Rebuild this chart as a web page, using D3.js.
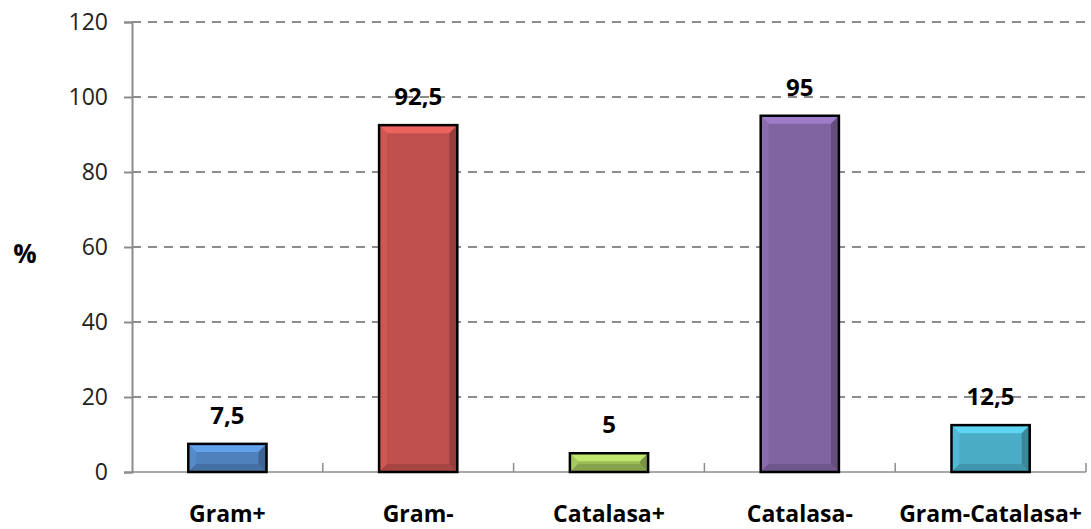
<!DOCTYPE html>
<html><head><meta charset="utf-8">
<script src="https://cdn.jsdelivr.net/npm/d3@7"></script>
<style>body{margin:0;background:#fff}svg{display:block}</style>
</head><body>
<svg id="c" width="1091" height="529"></svg>
<script>
const categories = ["Gram+","Gram-","Catalasa+","Catalasa-","Gram-Catalasa+"];
const values = [7.5, 92.5, 5, 95, 12.5];
const valueLabels = ["7,5","92,5","5","95","12,5"];
const colors = ["#4F81BD","#C0504D","#9BBB59","#8064A2","#4BACC6"];
const yTicks = [0,20,40,60,80,100,120];
const yTitle = "%";

const svg = d3.select("#c");
const m = {left:132, right:1086, top:22, bottom:472};
const x = d3.scaleBand().domain(categories).range([m.left, m.right]).paddingInner(0.59).paddingOuter(0.295);
const y = d3.scaleLinear().domain([0,120]).range([m.bottom, m.top]);
const font = "'Open Sans', sans-serif";

// gridlines
svg.append("g").selectAll("line").data(yTicks.filter(d=>d>0)).join("line")
  .attr("x1", m.left).attr("x2", m.right).attr("y1", d=>y(d)).attr("y2", d=>y(d))
  .attr("stroke","#8c8c8c").attr("stroke-width",2).attr("stroke-dasharray","9,7");

// y axis
const ya = svg.append("g").attr("transform",`translate(${m.left},0)`)
  .call(d3.axisLeft(y).tickValues(yTicks).tickSize(8).tickPadding(16));
ya.select(".domain").attr("stroke","#8c8c8c").attr("stroke-width",2);
ya.selectAll(".tick line").attr("stroke","#8c8c8c").attr("stroke-width",2);
ya.selectAll("text").attr("font-family",font).attr("font-size",23).attr("fill","#222");

// x axis
const xa = svg.append("g").attr("transform",`translate(0,${m.bottom})`)
  .call(d3.axisBottom(x).tickSize(0).tickPadding(34));
xa.select(".domain").remove();
xa.selectAll("text").attr("font-family",font).attr("font-size",23).attr("font-weight","bold").attr("fill","#000");
svg.append("line").attr("x1",m.left).attr("x2",m.right).attr("y1",m.bottom).attr("y2",m.bottom)
  .attr("stroke","#8c8c8c").attr("stroke-width",1.5);
// category separator ticks (inside)
const step = x.step();
const seps = d3.range(1, categories.length+1).map(i => x(categories[0]) - x.paddingOuter()*step + i*step);
svg.append("g").selectAll("line").data(seps).join("line")
  .attr("x1",d=>d).attr("x2",d=>d).attr("y1",m.bottom).attr("y2",m.bottom-9)
  .attr("stroke","#8c8c8c").attr("stroke-width",1.5);

// bars with bevel
const bev = 8;
const bars = svg.append("g").selectAll("g").data(categories).join("g");
bars.each(function(c,i){
  const g = d3.select(this);
  const x0 = x(c), x1 = x(c)+x.bandwidth(), y0 = y(values[i]), y1 = y(0);
  const col = d3.color(colors[i]);
  const b = Math.min(bev, (y1-y0)/2);
  g.append("rect").attr("x",x0).attr("y",y0).attr("width",x1-x0).attr("height",y1-y0).attr("fill",col);
  const poly = (pts, fill) => g.append("polygon").attr("points", pts.map(p=>p.join(",")).join(" ")).attr("fill", fill);
  poly([[x0,y0],[x1,y0],[x1-b,y0+b],[x0+b,y0+b]], col.brighter(0.6));
  poly([[x0,y0],[x0+b,y0+b],[x0+b,y1-b],[x0,y1]], col.brighter(0.2));
  poly([[x1,y0],[x1,y1],[x1-b,y1-b],[x1-b,y0+b]], col.darker(0.7));
  poly([[x0,y1],[x1,y1],[x1-b,y1-b],[x0+b,y1-b]], col.darker(0.4));
  g.append("rect").attr("x",x0).attr("y",y0).attr("width",x1-x0).attr("height",y1-y0)
    .attr("fill","none").attr("stroke","#000").attr("stroke-width",2.5);
  g.append("text").attr("x",(x0+x1)/2).attr("y",y0-20).attr("text-anchor","middle")
    .attr("font-family",font).attr("font-size",24).attr("font-weight","bold").text(valueLabels[i]);
});

svg.append("text").attr("x",25).attr("y",263).attr("text-anchor","middle")
  .attr("font-family",font).attr("font-size",26).attr("font-weight","bold").text(yTitle);
</script>
</body></html>
